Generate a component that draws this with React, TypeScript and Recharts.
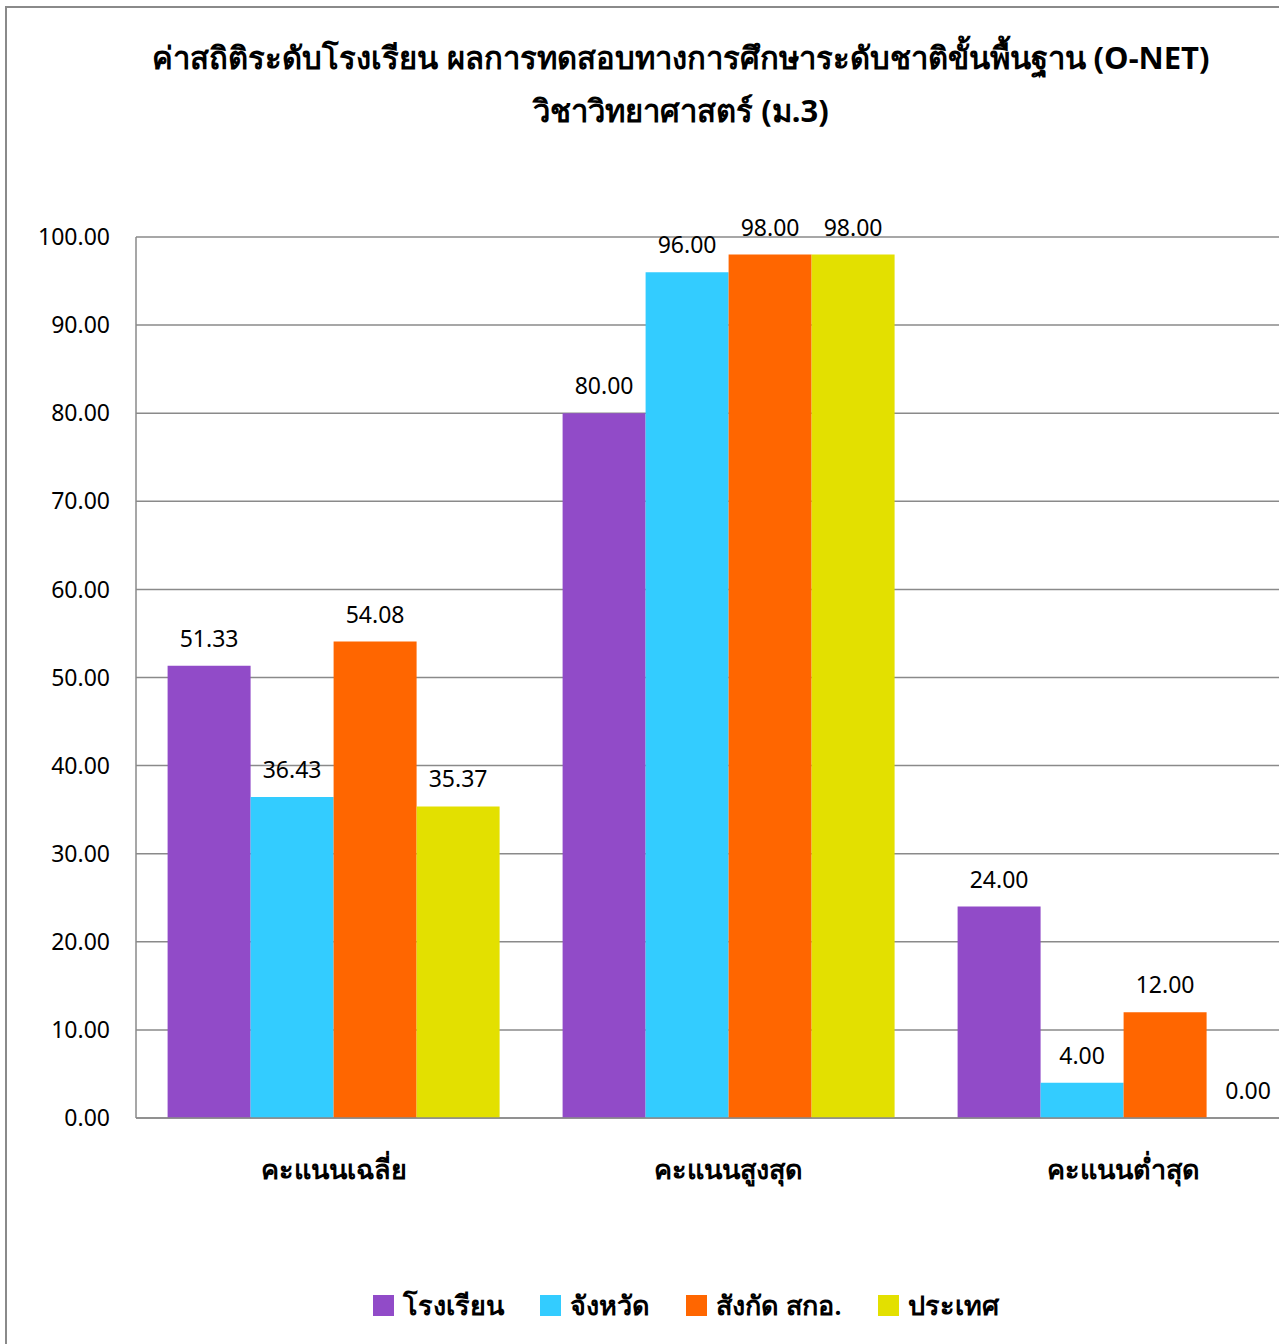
import React from 'react';
import { BarChart, Bar, XAxis, YAxis, CartesianGrid, LabelList } from 'recharts';

const categories = ['คะแนนเฉลี่ย', 'คะแนนสูงสุด', 'คะแนนต่ำสุด'];
const schoolScores = [51.33, 80.0, 24.0];
const provinceScores = [36.43, 96.0, 4.0];
const affiliationScores = [54.08, 98.0, 12.0];
const nationScores = [35.37, 98.0, 0.0];
const yTicks = [0, 10, 20, 30, 40, 50, 60, 70, 80, 90, 100];

const seriesList = [
  { key: 'school', name: 'โรงเรียน', color: '#914BC8', values: schoolScores },
  { key: 'province', name: 'จังหวัด', color: '#33CCFF', values: provinceScores },
  { key: 'affiliation', name: 'สังกัด สกอ.', color: '#FF6600', values: affiliationScores },
  { key: 'nation', name: 'ประเทศ', color: '#E3E000', values: nationScores },
];

const chartData = categories.map((cat, i) => {
  const row: Record<string, string | number> = { category: cat };
  seriesList.forEach(s => { row[s.key] = s.values[i]; });
  return row;
});

const FONT = '"Noto Sans", Tahoma, sans-serif';

export default function App() {
  return (
    <div style={{ position: 'relative', width: 1279, height: 1344, overflow: 'hidden', fontFamily: FONT, color: '#000' }}>
      <style>{'body{margin:0}'}</style>
      {/* frame, clipped on the right and bottom like the screenshot */}
      <div style={{ position: 'absolute', left: 5, top: 6, width: 1400, height: 1400, border: '2px solid #8a8a8a' }} />

      <div style={{ position: 'absolute', left: 0, top: 31, width: 1362, textAlign: 'center', fontSize: 31, fontWeight: 'bold', lineHeight: '53px' }}>
        <div>ค่าสถิติระดับโรงเรียน ผลการทดสอบทางการศึกษาระดับชาติขั้นพื้นฐาน (O-NET)</div>
        <div>วิชาวิทยาศาสตร์ (ม.3)</div>
      </div>

      <div style={{ position: 'absolute', left: 0, top: 0 }}>
        <BarChart
          width={1340}
          height={1344}
          data={chartData}
          margin={{ top: 237, right: 19, left: 0, bottom: 146 }}
          barCategoryGap="8%"
          barGap={0}
        >
          <CartesianGrid vertical={false} stroke="#8a8a8a" strokeWidth={1.5} />
          <XAxis
            dataKey="category"
            height={80}
            tickLine={false}
            axisLine={{ stroke: '#8a8a8a', strokeWidth: 1.5 }}
            tickMargin={36}
            tick={{ fill: '#000', fontSize: 27, fontWeight: 'bold', fontFamily: FONT }}
          />
          <YAxis
            width={136}
            domain={[0, 100]}
            ticks={yTicks}
            interval={0}
            tickLine={false}
            axisLine={{ stroke: '#8a8a8a', strokeWidth: 1.5 }}
            tickMargin={20}
            tickFormatter={(v: number) => v.toFixed(2)}
            tick={{ fill: '#000', fontSize: 23, fontFamily: FONT }}
          />
          {seriesList.map(s => (
            <Bar key={s.key} dataKey={s.key} name={s.name} fill={s.color} minPointSize={0.01} isAnimationActive={false}>
              <LabelList
                dataKey={s.key}
                position="top"
                offset={19}
                formatter={(v: number) => Number(v).toFixed(2)}
                style={{ fill: '#000', fontSize: 23, fontFamily: FONT }}
              />
            </Bar>
          ))}
        </BarChart>
      </div>

      {/* legend */}
      <div style={{ position: 'absolute', left: 0, top: 1284, width: 1372, display: 'flex', justifyContent: 'center', alignItems: 'center', fontSize: 27, fontWeight: 600 }}>
        {seriesList.map((s, i) => (
          <div key={s.key} style={{ display: 'flex', alignItems: 'center', marginRight: i < seriesList.length - 1 ? 36 : 0 }}>
            <span style={{ width: 21, height: 21, background: s.color, display: 'inline-block', marginRight: 9 }} />
            <span>{s.name}</span>
          </div>
        ))}
      </div>
    </div>
  );
}
